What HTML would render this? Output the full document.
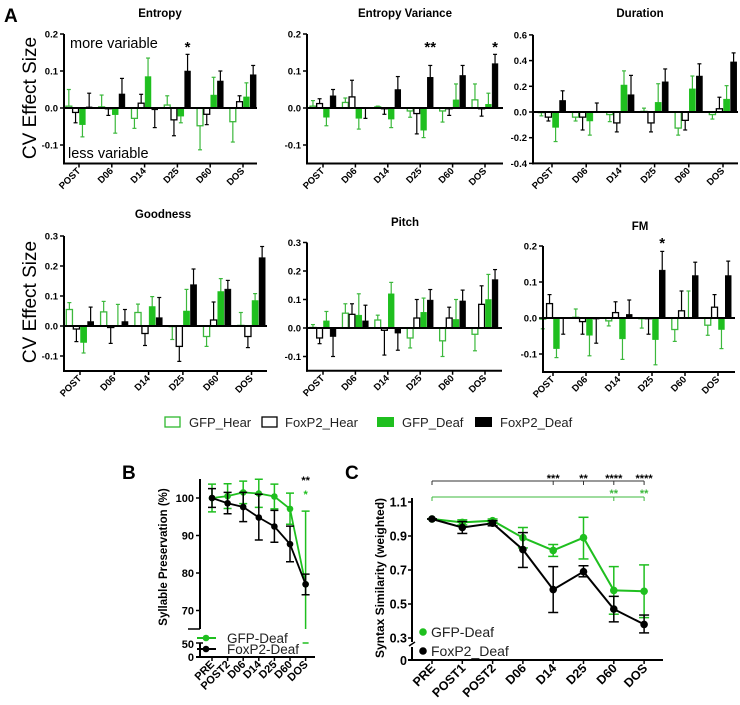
<!DOCTYPE html>
<html><head><meta charset="utf-8">
<style>
html,body{margin:0;padding:0;background:#fff;}
svg{display:block;font-family:"Liberation Sans",Arial,sans-serif;}
</style></head>
<body>
<svg id="fig" width="740" height="705" viewBox="0 0 740 705" xmlns="http://www.w3.org/2000/svg">
<text x="4" y="22" font-size="19" font-weight="bold">A</text>
<text x="122" y="479" font-size="19" font-weight="bold">B</text>
<text x="345" y="479" font-size="19" font-weight="bold">C</text>
<text transform="translate(36,98) rotate(-90)" text-anchor="middle" font-size="19">CV Effect Size</text>
<text transform="translate(36,302) rotate(-90)" text-anchor="middle" font-size="19">CV Effect Size</text>
<text x="70" y="48" font-size="14.5">more variable</text>
<text x="68" y="158" font-size="14.5">less variable</text>
<g id="bars"></g>
<g id="legendA">
 <rect x="165" y="417" width="15" height="10" fill="#fff" stroke="#2eb82e" stroke-width="1.3"/>
 <text x="189" y="427" font-size="13" fill="#222">GFP_Hear</text>
 <rect x="262" y="417" width="15" height="10" fill="#fff" stroke="#000" stroke-width="1.3"/>
 <text x="285" y="427" font-size="13" fill="#222">FoxP2_Hear</text>
 <rect x="377" y="417" width="17" height="10" fill="#1fbf1f"/>
 <text x="402" y="427" font-size="13" fill="#222">GFP_Deaf</text>
 <rect x="475" y="417" width="17" height="10" fill="#000"/>
 <text x="500" y="427" font-size="13" fill="#222">FoxP2_Deaf</text>
</g>
<g id="panelB"></g>
<g id="panelC"></g>
</svg>
<script>
const groups = ["POST","D06","D14","D25","D60","DOS"];
const entropyMean = [[0.005,-0.012,-0.045,0.003],[0.003,-0.002,-0.018,0.038],[-0.028,0.013,0.085,-0.005],[0.008,-0.032,-0.022,0.1],[-0.048,-0.017,0.035,0.073],[-0.037,0.017,0.03,0.09]];
const entropyErr = [[0.05,-0.04,-0.078,0.04],[0.035,-0.02,-0.068,0.08],[-0.055,0.037,0.135,-0.053],[0.033,-0.075,-0.04,0.145],[-0.113,-0.045,0.083,0.1],[-0.092,0.033,0.068,0.115]];
const entVarMean = [[0.005,0.012,-0.025,0.033],[0.015,0.03,-0.028,-0.002],[0.003,-0.002,-0.03,0.05],[-0.008,-0.015,-0.06,0.083],[-0.008,-0.002,0.022,0.088],[0.022,-0.002,0.01,0.12]];
const entVarErr = [[0.02,0.025,-0.048,0.05],[0.027,0.075,-0.057,-0.028],[0.005,-0.017,-0.053,0.085],[-0.025,-0.07,-0.08,0.115],[-0.038,-0.02,0.065,0.115],[0.065,-0.022,0.04,0.145]];
const durationMean = [[-0.005,-0.04,-0.12,0.09],[-0.04,-0.04,-0.07,0.005],[-0.02,-0.085,0.21,0.135],[0.005,-0.085,0.075,0.235],[-0.125,-0.065,0.18,0.28],[-0.02,0.025,0.1,0.39]];
const durationErr = [[-0.03,-0.07,-0.23,0.165],[-0.07,-0.14,-0.18,0.07],[-0.075,-0.155,0.32,0.285],[0.03,-0.155,0.22,0.335],[-0.18,-0.14,0.28,0.375],[-0.055,0.115,0.205,0.46]];
const goodnessMean = [[0.055,-0.01,-0.055,0.015],[0.047,-0.005,0.002,0.015],[0.045,-0.025,0.065,0.028],[-0.002,-0.068,0.05,0.138],[-0.035,0.02,0.115,0.123],[0.002,-0.035,0.085,0.228]];
const goodnessErr = [[0.078,-0.052,-0.09,0.063],[0.082,-0.058,0.072,0.055],[0.073,-0.065,0.098,0.095],[-0.045,-0.118,0.122,0.19],[-0.068,0.08,0.158,0.152],[0.045,-0.072,0.108,0.265]];
const pitchMean = [[0.002,-0.035,0.025,-0.03],[0.052,0.048,0.045,0.025],[0.028,-0.008,0.12,-0.018],[-0.035,0.035,0.055,0.098],[-0.045,0.035,0.03,0.095],[-0.022,0.083,0.1,0.17]];
const pitchErr = [[0.012,-0.055,0.058,-0.1],[0.085,0.085,0.12,0.08],[0.045,-0.095,0.16,-0.078],[-0.07,0.1,0.105,0.135],[-0.1,0.073,0.1,0.133],[-0.08,0.148,0.188,0.205]];
const fmMean = [[-0.003,0.04,-0.085,-0.002],[0.002,-0.01,-0.048,-0.003],[-0.008,0.015,-0.058,0.01],[-0.002,-0.002,-0.06,0.133],[-0.032,0.02,0.002,0.118],[-0.02,0.03,-0.032,0.118]];
const fmErr = [[-0.03,0.065,-0.11,-0.045],[0.025,-0.045,-0.105,-0.07],[-0.022,0.045,-0.115,0.05],[-0.028,-0.045,-0.13,0.185],[-0.065,0.075,0.075,0.155],[-0.048,0.065,-0.085,0.158]];
const entropyTicks = [-0.1,0,0.1,0.2];
const durationTicks = [-0.4,-0.2,0,0.2,0.4,0.6];
const row2Ticks = [-0.1,0,0.1,0.2,0.3];
const fmTicks = [-0.1,0,0.1,0.2];
const entropyStars = [{g:3,s:"*"}];
const entVarStars = [{g:3,s:"**"},{g:5,s:"*"}];
const fmStars = [{g:3,s:"*"}];

const bCats = ["PRE","POST2","D06","D14","D25","D60","DOS"];
const bGfp = [100,100.5,101.5,101.2,100.4,97.1,77];
const bGfpLo = [96.3,97.2,98.5,97.5,97.1,93,65];
const bGfpHi = [103.7,103.8,104.5,105,103.7,101.3,96.5];
const bFox = [100,98.6,97.6,94.8,92.4,87.7,77];
const bFoxLo = [97.5,95.8,93.7,88.8,88.2,83,74.2];
const bFoxHi = [102.5,101.5,101.5,101,96.7,92.5,79.7];
const bTicks = [70,80,90,100];

const cCats = ["PRE","POST1","POST2","D06","D14","D25","D60","DOS"];
const cGfp = [1.0,0.98,0.99,0.89,0.815,0.89,0.58,0.575];
const cGfpLo = [1.0,0.965,0.98,0.83,0.78,0.765,0.44,0.42];
const cGfpHi = [1.0,0.995,1.0,0.95,0.85,1.01,0.72,0.73];
const cFox = [1.0,0.95,0.975,0.82,0.585,0.69,0.47,0.38];
const cFoxLo = [1.0,0.915,0.96,0.715,0.45,0.66,0.395,0.33];
const cFoxHi = [1.0,0.985,0.99,0.92,0.72,0.725,0.545,0.435];
const cTicks = [0.3,0.5,0.7,0.9,1.1];
const cBlackSig = [{g:4,s:"***"},{g:5,s:"**"},{g:6,s:"****"},{g:7,s:"****"}];
const cGreenSig = [{g:6,s:"**"},{g:7,s:"**"}];

const NS="http://www.w3.org/2000/svg";
function mk(parent,tag,attrs,text){const e=document.createElementNS(NS,tag);for(const k in attrs)e.setAttribute(k,attrs[k]);if(text!==undefined)e.textContent=text;parent.appendChild(e);return e;}
const GREEN="#1fbf1f", LGREEN="#3cb83c";

function barPanel(cfg){
  const g=mk(document.getElementById('bars'),'g',{});
  
  
  const y=v=>cfg.zeroY-(v)*cfg.pxPerUnit;
  const xc=i=>cfg.t0+i*cfg.dt;
  const bottom=y(cfg.ymin);
  const top=y(cfg.ymax);
  const t=mk(g,'text',{x:cfg.titleX,y:cfg.titleY,'text-anchor':'middle','font-size':11.5,'font-weight':'bold'},cfg.title);
  
  
  const offs=[-0.31,-0.105,0.105,0.31], bw=cfg.dt*0.18;
  cfg.mean.forEach((grp,i)=>{
    grp.forEach((v,k)=>{
      const cx=xc(i)+offs[k]*cfg.dt;
      const e=cfg.err[i][k];
      const ecol=(k===0||k===2)?LGREEN:"#000";
      const el=mk(g,'line',{x1:cx,x2:cx,y1:y(v),y2:y(e),stroke:ecol,'stroke-width':1.2});
      
      
      mk(g,'line',{x1:cx-2,x2:cx+2,y1:y(e),y2:y(e),stroke:ecol,'stroke-width':1.2});
      const y0=Math.min(y(v),y(0)), h=Math.abs(y(v)-y(0));
      const fill=(k===2)?GREEN:(k===3?"#000":"#fff");
      const stroke=(k===0)?LGREEN:(k===2?GREEN:"#000");
      const r=mk(g,'rect',{x:cx-bw/2,y:y0,width:bw,height:Math.max(h,0.5),fill:fill,stroke:stroke,'stroke-width':(k<2?1.3:0.5)});
      
      
    });
  });
  mk(g,'line',{x1:cfg.axisX,x2:cfg.xEnd,y1:y(0),y2:y(0),stroke:"#000",'stroke-width':2});
  const ya=mk(g,'line',{x1:cfg.axisX,x2:cfg.axisX,y1:top,y2:bottom+1,stroke:"#000",'stroke-width':2});
  
  
  const xa=mk(g,'line',{x1:cfg.axisX-1,x2:cfg.xEnd,y1:bottom,y2:bottom,stroke:"#000",'stroke-width':2});
  
  
  cfg.ticks.forEach(v=>{
    mk(g,'line',{x1:cfg.axisX-4,x2:cfg.axisX,y1:y(v),y2:y(v),stroke:"#000",'stroke-width':1.5});
    const tl=mk(g,'text',{x:cfg.axisX-6,y:y(v)+3.5,'text-anchor':'end','font-size':9.5,'font-weight':'bold'},v.toFixed(1));
    
    
  });
  groups.forEach((c,i)=>{
    mk(g,'line',{x1:xc(i),x2:xc(i),y1:bottom,y2:bottom+4,stroke:"#000",'stroke-width':1.5});
    const tl=mk(g,'text',{transform:`translate(${xc(i)+2},${bottom+8}) rotate(-45)`,'text-anchor':'end','font-size':9.5,'font-weight':'bold'},c);
    
    
  });
  (cfg.stars||[]).forEach(s=>{
    const st=mk(g,'text',{x:xc(s.g)+0.31*cfg.dt,y:cfg.starY,'text-anchor':'middle','font-size':15,'font-weight':'bold'},s.s);
    
    
  });
}

barPanel({name:'entropy',title:'Entropy',titleX:160,titleY:17,axisX:64,xEnd:257,t0:79,dt:32.8,zeroY:108,pxPerUnit:370,ymin:-0.15,ymax:0.2,ticks:entropyTicks,mean:entropyMean,err:entropyErr,stars:entropyStars,starY:52});
barPanel({name:'entropy-variance',title:'Entropy Variance',titleX:405,titleY:17,axisX:307,xEnd:503,t0:323,dt:32.4,zeroY:108,pxPerUnit:370,ymin:-0.15,ymax:0.2,ticks:entropyTicks,mean:entVarMean,err:entVarErr,stars:entVarStars,starY:52});
barPanel({name:'duration',title:'Duration',titleX:640,titleY:17,axisX:533,xEnd:738,t0:552,dt:34.2,zeroY:112,pxPerUnit:128.5,ymin:-0.4,ymax:0.6,ticks:durationTicks,mean:durationMean,err:durationErr});
barPanel({name:'goodness',title:'Goodness',titleX:163,titleY:218,axisX:64,xEnd:267,t0:80,dt:34.3,zeroY:326,pxPerUnit:300,ymin:-0.15,ymax:0.3,ticks:row2Ticks,mean:goodnessMean,err:goodnessErr});
barPanel({name:'pitch',title:'Pitch',titleX:405,titleY:226,axisX:307,xEnd:502,t0:323,dt:32.4,zeroY:328,pxPerUnit:285,ymin:-0.15,ymax:0.3,ticks:row2Ticks,mean:pitchMean,err:pitchErr});
barPanel({name:'fm',title:'FM',titleX:640,titleY:230,axisX:543,xEnd:735,t0:553,dt:33,zeroY:318,pxPerUnit:360,ymin:-0.15,ymax:0.2,ticks:fmTicks,mean:fmMean,err:fmErr,stars:fmStars,starY:248});

(function(){
  const g=document.getElementById('panelB');
  
  
  const ax=200, xEnd=315, x0=212, dx=15.6, baseY=657;
  const y=v=>498-(v-100)*3.75;
  const xc=i=>x0+i*dx;
  mk(g,'line',{x1:ax,x2:ax,y1:479,y2:629,stroke:"#000",'stroke-width':2});
  mk(g,'line',{x1:ax-12,x2:ax,y1:629,y2:629,stroke:"#000",'stroke-width':1.5});
  mk(g,'line',{x1:ax,x2:ax,y1:643,y2:baseY,stroke:"#000",'stroke-width':2});
  mk(g,'line',{x1:ax-4,x2:ax+3,y1:643,y2:643,stroke:"#000",'stroke-width':1.5});
  const xa=mk(g,'line',{x1:ax-4,x2:xEnd,y1:baseY,y2:baseY,stroke:"#000",'stroke-width':2});
  
  
  bTicks.forEach(v=>{
    mk(g,'line',{x1:ax-4,x2:ax,y1:y(v),y2:y(v),stroke:"#000",'stroke-width':1.5});
    const tl=mk(g,'text',{x:ax-6,y:y(v)+4,'text-anchor':'end','font-size':11,'font-weight':'bold'},String(v));
    
    
  });
  mk(g,'text',{x:ax-6,y:648,'text-anchor':'end','font-size':11,'font-weight':'bold'},"50");
  mk(g,'text',{x:ax-6,y:661,'text-anchor':'end','font-size':11,'font-weight':'bold'},"0");
  const yl=mk(g,'text',{transform:'translate(167,557) rotate(-90)','text-anchor':'middle','font-size':11.5,'font-weight':'bold'},"Syllable Preservation (%)");
  
  
  bCats.forEach((c,i)=>{
    mk(g,'line',{x1:xc(i),x2:xc(i),y1:baseY,y2:baseY+4,stroke:"#000",'stroke-width':1.5});
    const tl=mk(g,'text',{transform:`translate(${xc(i)+3},${baseY+8}) rotate(-45)`,'text-anchor':'end','font-size':11,'font-weight':'bold'},c);
    
    
  });
  function series(m,lo,hi,col,name){
    const s=mk(g,'g',{});
    
    
    m.forEach((v,i)=>{
      mk(s,'line',{x1:xc(i),x2:xc(i),y1:y(hi[i]),y2:Math.min(y(lo[i]),629),stroke:col,'stroke-width':1.5});
      mk(s,'line',{x1:xc(i)-4,x2:xc(i)+4,y1:y(hi[i]),y2:y(hi[i]),stroke:col,'stroke-width':1.5});
      if(y(lo[i])<629) mk(s,'line',{x1:xc(i)-4,x2:xc(i)+4,y1:y(lo[i]),y2:y(lo[i]),stroke:col,'stroke-width':1.5});
    });
    mk(s,'polyline',{points:m.map((v,i)=>xc(i)+','+y(v)).join(' '),fill:'none',stroke:col,'stroke-width':1.8});
    m.forEach((v,i)=>{
      const p=mk(s,'circle',{cx:xc(i),cy:y(v),r:3.3,fill:col});
      
      
    });
  }
  series(bGfp,bGfpLo,bGfpHi,GREEN,'gfp-deaf-series');
  mk(g,'line',{x1:xc(6)-3,x2:xc(6)+3,y1:643,y2:643,stroke:GREEN,'stroke-width':1.5});
  series(bFox,bFoxLo,bFoxHi,"#000",'foxp2-deaf-series');
  mk(g,'text',{x:xc(6),y:484,'text-anchor':'middle','font-size':11,'font-weight':'bold'},"**");
  mk(g,'text',{x:xc(6),y:498,'text-anchor':'middle','font-size':11,'font-weight':'bold',fill:GREEN},"*");
  const l1=mk(g,'g',{});  
  mk(l1,'line',{x1:197,x2:216,y1:638,y2:638,stroke:GREEN,'stroke-width':2});
  mk(l1,'circle',{cx:206,cy:638,r:3.3,fill:GREEN});
  mk(l1,'text',{x:227,y:643,'font-size':13.5,fill:'#222'},"GFP-Deaf");
  const l2=mk(g,'g',{});  
  mk(l2,'line',{x1:197,x2:216,y1:649,y2:649,stroke:'#000','stroke-width':2});
  mk(l2,'circle',{cx:206,cy:649,r:3.3,fill:'#000'});
  mk(l2,'text',{x:227,y:654,'font-size':13.5,fill:'#222'},"FoxP2-Deaf");
})();

(function(){
  const g=document.getElementById('panelC');
  
  
  const ax=412, xEnd=663, x0=432, dx=30.3, baseY=660;
  const y=v=>502+(1.1-v)*170;
  const xc=i=>x0+i*dx;
  mk(g,'line',{x1:ax,x2:ax,y1:498,y2:642,stroke:"#000",'stroke-width':2});
  mk(g,'line',{x1:ax-3,x2:ax+3,y1:646,y2:642,stroke:"#000",'stroke-width':1.5});
  mk(g,'line',{x1:ax,x2:ax,y1:647,y2:baseY,stroke:"#000",'stroke-width':2});
  const xa=mk(g,'line',{x1:ax-4,x2:xEnd,y1:baseY,y2:baseY,stroke:"#000",'stroke-width':2});
  
  
  cTicks.forEach(v=>{
    mk(g,'line',{x1:ax-4,x2:ax,y1:y(v),y2:y(v),stroke:"#000",'stroke-width':1.5});
    const tl=mk(g,'text',{x:ax-5,y:y(v)+4.5,'text-anchor':'end','font-size':12.5,'font-weight':'bold'},v.toFixed(1));
    
    
  });
  mk(g,'text',{x:ax-5,y:665,'text-anchor':'end','font-size':12.5,'font-weight':'bold'},"0");
  const yl=mk(g,'text',{transform:'translate(384,578) rotate(-90)','text-anchor':'middle','font-size':12,'font-weight':'bold'},"Syntax Similarity (weighted)");
  
  
  cCats.forEach((c,i)=>{
    mk(g,'line',{x1:xc(i),x2:xc(i),y1:baseY,y2:baseY+4,stroke:"#000",'stroke-width':1.5});
    const tl=mk(g,'text',{transform:`translate(${xc(i)+4},${baseY+9}) rotate(-45)`,'text-anchor':'end','font-size':12.5,'font-weight':'bold'},c);
    
    
  });
  function series(m,lo,hi,col,name){
    const s=mk(g,'g',{});
    
    
    m.forEach((v,i)=>{
      mk(s,'line',{x1:xc(i),x2:xc(i),y1:y(hi[i]),y2:y(lo[i]),stroke:col,'stroke-width':1.5});
      mk(s,'line',{x1:xc(i)-5,x2:xc(i)+5,y1:y(hi[i]),y2:y(hi[i]),stroke:col,'stroke-width':1.5});
      mk(s,'line',{x1:xc(i)-5,x2:xc(i)+5,y1:y(lo[i]),y2:y(lo[i]),stroke:col,'stroke-width':1.5});
    });
    mk(s,'polyline',{points:m.map((v,i)=>xc(i)+','+y(v)).join(' '),fill:'none',stroke:col,'stroke-width':2});
    m.forEach((v,i)=>{
      const p=mk(s,'circle',{cx:xc(i),cy:y(v),r:3.8,fill:col});
      
      
    });
  }
  series(cGfp,cGfpLo,cGfpHi,GREEN,'gfp-deaf-series');
  series(cFox,cFoxLo,cFoxHi,"#000",'foxp2-deaf-series');
  const bl=mk(g,'g',{});  
  mk(bl,'line',{x1:xc(0),x2:xc(7),y1:481,y2:481,stroke:'#333','stroke-width':1});
  mk(bl,'line',{x1:xc(0),x2:xc(0),y1:481,y2:485,stroke:'#333','stroke-width':1});
  cBlackSig.forEach(s=>{
    mk(bl,'line',{x1:xc(s.g),x2:xc(s.g),y1:481,y2:485,stroke:'#333','stroke-width':1});
    mk(bl,'text',{x:xc(s.g),y:482,'text-anchor':'middle','font-size':11,'font-weight':'bold'},s.s);
  });
  const gl=mk(g,'g',{});  
  mk(gl,'line',{x1:xc(0),x2:xc(7),y1:497,y2:497,stroke:LGREEN,'stroke-width':1});
  mk(gl,'line',{x1:xc(0),x2:xc(0),y1:497,y2:501,stroke:LGREEN,'stroke-width':1});
  cGreenSig.forEach(s=>{
    mk(gl,'line',{x1:xc(s.g),x2:xc(s.g),y1:497,y2:501,stroke:LGREEN,'stroke-width':1});
    mk(gl,'text',{x:xc(s.g),y:497,'text-anchor':'middle','font-size':11,'font-weight':'bold',fill:LGREEN},s.s);
  });
  const l1=mk(g,'g',{});  
  mk(l1,'circle',{cx:423,cy:632,r:3.8,fill:GREEN});
  mk(l1,'text',{x:431,y:637,'font-size':14,fill:'#222'},"GFP-Deaf");
  const l2=mk(g,'g',{});  
  mk(l2,'circle',{cx:423,cy:651,r:3.8,fill:'#000'});
  mk(l2,'text',{x:431,y:656,'font-size':14,fill:'#222'},"FoxP2_Deaf");
})();
</script>
</body></html>
